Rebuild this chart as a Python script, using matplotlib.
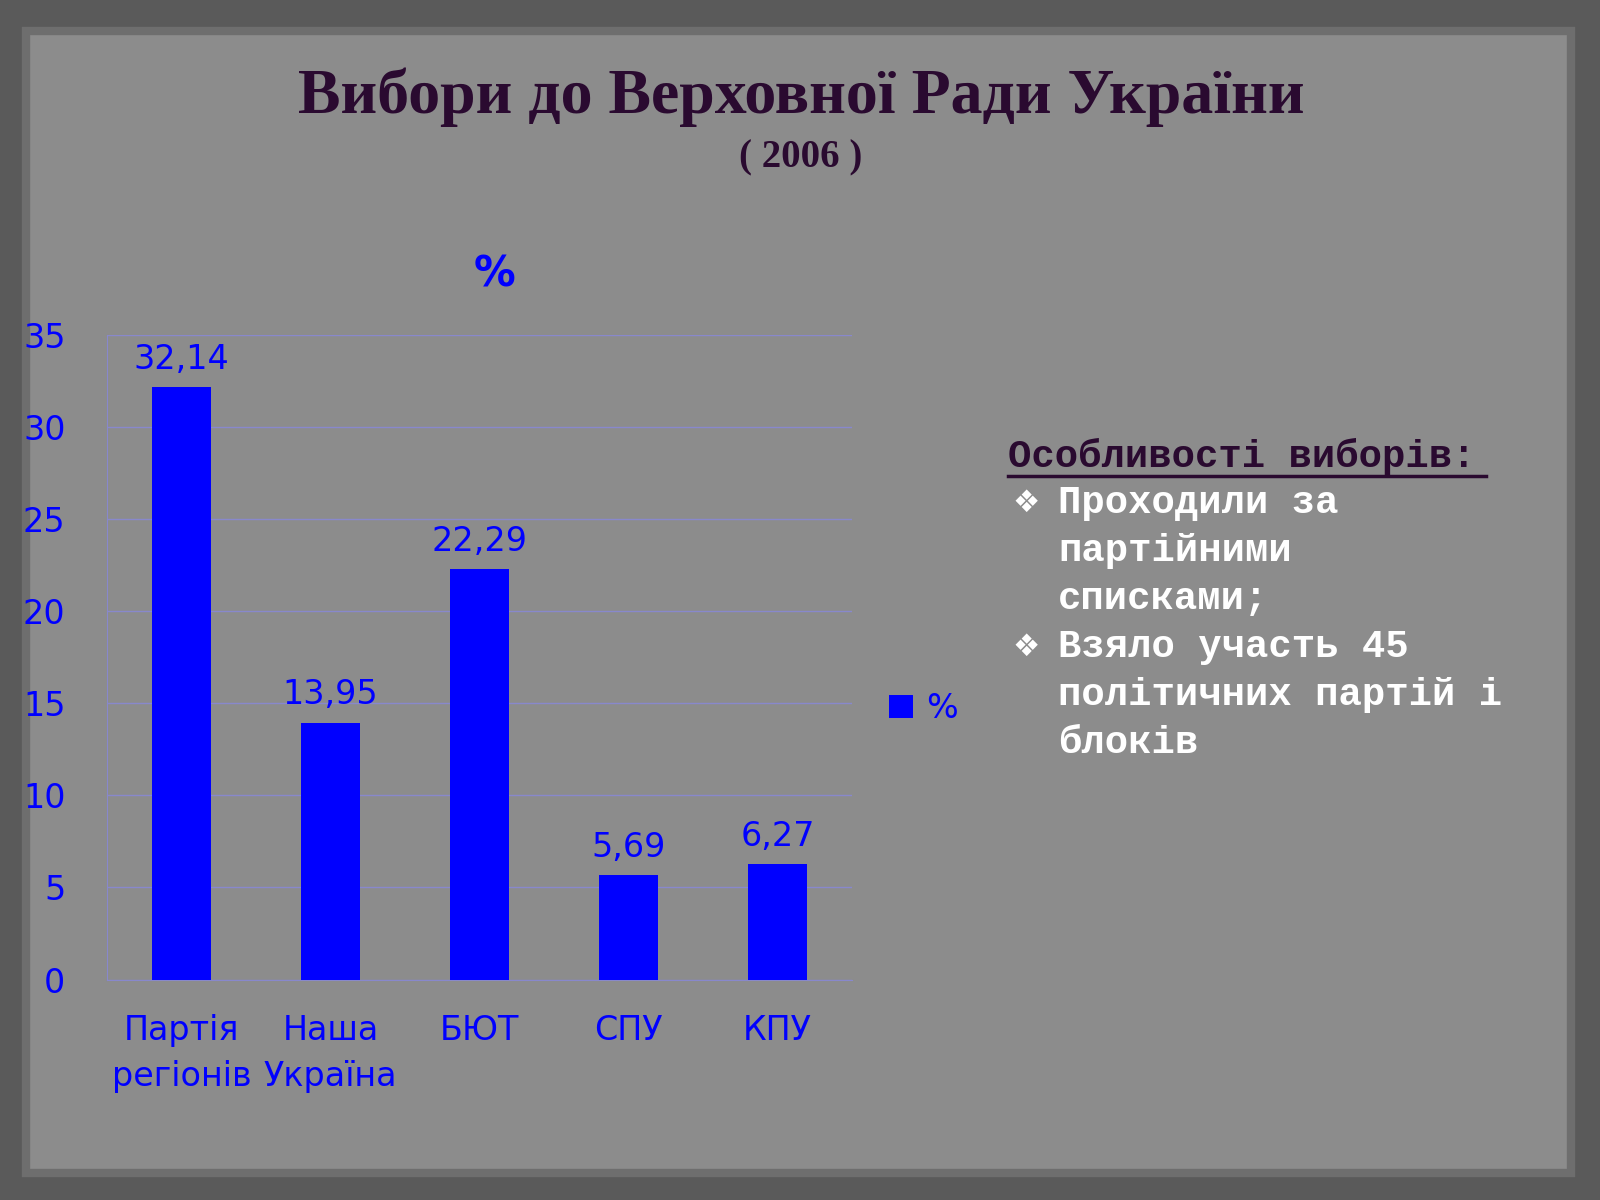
import matplotlib
matplotlib.use('Agg')
import matplotlib.pyplot as plt
from matplotlib.patches import Rectangle

parties = ['Партія\nрегіонів', 'Наша\nУкраїна', 'БЮТ', 'СПУ', 'КПУ']
values = [32.14, 13.95, 22.29, 5.69, 6.27]
labels = ['32,14', '13,95', '22,29', '5,69', '6,27']
yticks = [0, 5, 10, 15, 20, 25, 30, 35]

W, H = 1568, 1176
fig = plt.figure(figsize=(16, 12), dpi=100)
fig.patch.set_facecolor('#5a5a5a')
fig.add_artist(Rectangle((25 / W, 1 - 1150 / H), 1515 / W, 1120 / H,
                         transform=fig.transFigure, facecolor='#8c8c8c',
                         edgecolor='#6e6e6e', lw=6, zorder=0))

fig.text(785 / W, 1 - 95 / H, 'Вибори до Верховної Ради України', ha='center', va='center',
         fontsize=46, fontweight='bold', family='Liberation Serif', color='#2a0a30')
fig.text(785 / W, 1 - 155 / H, '( 2006 )', ha='center', va='center',
         fontsize=28, fontweight='bold', family='Liberation Serif', color='#2a0a30')

ax = fig.add_axes([105 / W, 1 - 960 / H, 730 / W, 632 / H])
ax.set_facecolor('none')
x = range(len(parties))
ax.bar(x, values, width=0.4, color='#0000ff', label='%', zorder=3)
for xi, v, t in zip(x, values, labels):
    ax.text(xi, v + 0.6, t, ha='center', va='bottom', fontsize=24, color='#0000ff')
ax.set_ylim(0, 35)
ax.set_xlim(-0.5, 4.5)
ax.set_yticks(yticks)
ax.set_xticks(list(x))
ax.set_xticklabels(parties, fontsize=24, color='#0000ff', linespacing=1.5)
ax.tick_params(axis='y', labelsize=24, labelcolor='#0000ff', length=0, pad=30)
ax.tick_params(axis='x', length=0, pad=25)
ax.grid(axis='y', color='#8888cc', lw=1, zorder=0)
for s in ['top', 'right']:
    ax.spines[s].set_visible(False)
for s in ['left', 'bottom']:
    ax.spines[s].set_color('#8888cc')
ax.set_title('%', fontsize=30, fontweight='bold', color='#0000ff', pad=35, x=0.52)
ax.legend(loc='center left', bbox_to_anchor=(1.01, 0.42), frameon=False,
          fontsize=24, labelcolor='#0000ff', handlelength=0.7, handletextpad=0.4)

fig.text(988 / W, 1 - 447 / H, 'Особливості виборів:', ha='left', va='center',
         fontsize=28, fontweight='bold', family='Liberation Mono', color='#2a0a30')
fig.add_artist(plt.Line2D([988 / W, 1456 / W], [1 - 466 / H, 1 - 466 / H],
                          color='#2a0a30', lw=2.5))
lines = [('❖', 'Проходили за'), ('', 'партійними'), ('', 'списками;'),
         ('❖', 'Взяло участь 45'), ('', 'політичних партій і'), ('', 'блоків')]
for i, (b, t) in enumerate(lines):
    y = 1 - (493 + i * 47) / H
    if b:
        fig.text(992 / W, y, b, ha='left', va='center', fontsize=22,
                 family='DejaVu Sans', color='white')
    fig.text(1037 / W, y, t, ha='left', va='center', fontsize=28,
             fontweight='bold', family='Liberation Mono', color='white')

fig.savefig('out.png', dpi=100, facecolor=fig.get_facecolor())
